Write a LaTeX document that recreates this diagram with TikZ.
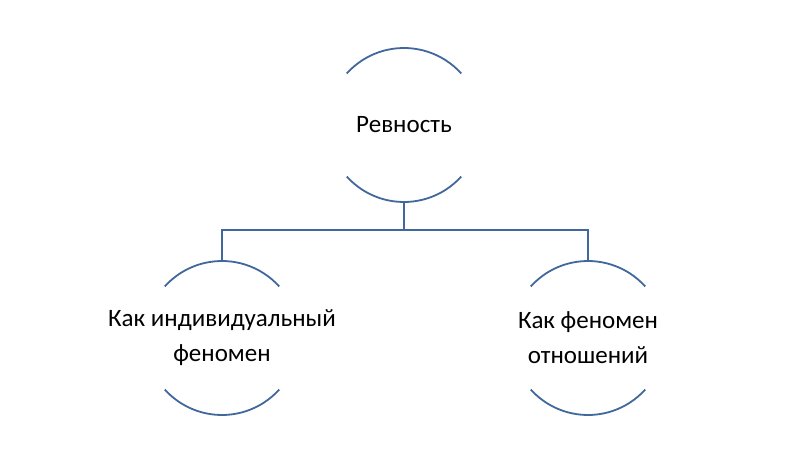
\documentclass[tikz,border=0pt]{standalone}
\usepackage{fontspec}
\setmainfont{Carlito}
\definecolor{steel}{HTML}{41689C}
\begin{document}
\begin{tikzpicture}[x=1pt,y=-1pt,
  topic/.style={inner sep=0pt,align=center,font=\fontsize{25}{35}\selectfont},
  rim/.style={draw=steel,line width=1.8pt},
  link/.style={draw=steel,line width=1.8pt}]
\useasboundingbox (0,0) rectangle (792,476);
\node[topic] (top) at (404,125) {Ревность};
\node[topic] (left) at (222,338) {Как индивидуальный\\феномен};
\node[topic] (right) at (588,338) {Как феномен\\отношений};
\foreach \n in {top,left,right}{
  \draw[rim] ([shift={(42:77pt)}]\n.center) arc[start angle=42,end angle=138,radius=77pt];
  \draw[rim] ([shift={(-42:77pt)}]\n.center) arc[start angle=-42,end angle=-138,radius=77pt];
}
\coordinate (fork) at (404,230);
\draw[link] ([yshift=-77pt]top.center) -- (fork);
\draw[link] ([yshift=77pt]left.center) |- (fork) -| ([yshift=77pt]right.center);
\end{tikzpicture}
\end{document}
